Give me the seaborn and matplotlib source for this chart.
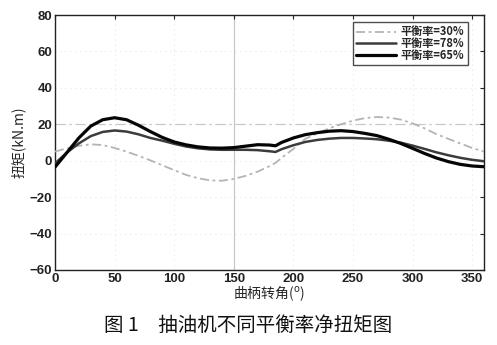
import numpy as np
import pandas as pd
import matplotlib
matplotlib.use("Agg")
import matplotlib.pyplot as plt
import seaborn as sns

# Crank angle (degrees) and net torque (kN.m) for three balance ratios
angle = [0, 10, 20, 30, 40, 50, 60, 70, 80, 90, 100, 110, 120, 130, 140, 150,
         160, 170, 180, 185, 190, 200, 210, 220, 230, 240, 250, 260, 270, 280,
         290, 300, 310, 320, 330, 340, 350, 360]
torque_30 = [5.0, 6.8, 8.2, 9.0, 8.6, 7.0, 5.0, 2.7, 0.2, -2.5, -5.2, -7.8,
             -9.6, -10.8, -11.0, -10.0, -8.3, -6.0, -3.0, -1.2, 1.5, 6.5, 12.0,
             15.0, 17.8, 20.0, 22.0, 23.4, 24.0, 23.7, 22.6, 20.5, 17.8, 14.6,
             12.0, 9.5, 7.0, 5.0]
torque_78 = [-1.5, 4.5, 9.5, 13.5, 15.8, 16.6, 16.0, 14.5, 12.5, 11.0, 9.3,
             7.8, 6.8, 6.2, 6.0, 6.0, 6.0, 5.8, 5.2, 4.8, 6.3, 8.5, 10.3, 11.4,
             12.1, 12.5, 12.5, 12.2, 11.8, 11.0, 9.9, 8.3, 6.5, 4.6, 3.0, 1.6,
             0.5, -0.3]
torque_65 = [-3.5, 4.5, 12.5, 19.0, 22.5, 23.6, 22.5, 19.5, 16.0, 12.8, 10.3,
             8.7, 7.6, 7.0, 6.9, 7.2, 8.0, 8.8, 8.6, 8.2, 10.0, 12.5, 14.3,
             15.4, 16.2, 16.5, 16.0, 15.0, 13.8, 11.8, 9.5, 6.8, 4.0, 1.5, -0.5,
             -2.0, -2.9, -3.3]
series_labels = ["平衡率=30%", "平衡率=78%", "平衡率=65%"]

x_ticks = [0, 50, 100, 150, 200, 250, 300, 350]
y_ticks = [-60, -40, -20, 0, 20, 40, 60, 80]

df = pd.concat([
    pd.DataFrame({"angle": angle, "torque": t, "series": lab})
    for t, lab in zip([torque_30, torque_78, torque_65], series_labels)
], ignore_index=True)

sns.set_style("white")
plt.rcParams["font.family"] = ["Liberation Sans", "Noto Sans CJK SC", "DejaVu Sans"]

fig = plt.figure(figsize=(4.97, 3.45), dpi=100)
ax = fig.add_axes([0.1107, 0.2174, 0.8633, 0.7391])

# Faint dotted grid plus the two highlighted reference lines
for xv in x_ticks:
    ax.axvline(xv, color="#d6d6d6", lw=0.6, ls=(0, (1, 5)), zorder=0)
for yv in y_ticks:
    ax.axhline(yv, color="#d6d6d6", lw=0.6, ls=(0, (1, 5)), zorder=0)
ax.axhline(20, color="#c8c8c8", lw=0.9, ls=(0, (8, 3, 2, 3)), zorder=0)
ax.axvline(150, color="#c8c8c8", lw=0.9, zorder=0)

dashdot = (0, (5, 2, 1.5, 2))
palette = {series_labels[0]: "#b4b4b4", series_labels[1]: "#3c3c3c",
           series_labels[2]: "#050505"}
sizes = {series_labels[0]: 1.3, series_labels[1]: 1.8, series_labels[2]: 2.3}
sns.lineplot(data=df, x="angle", y="torque", hue="series", size="series",
             palette=palette, sizes=sizes, hue_order=series_labels,
             size_order=series_labels, ax=ax, legend=False, zorder=3)
lines = ax.get_lines()[-3:]
lines[0].set_linestyle(dashdot)
for ln in lines:
    ln.set_solid_joinstyle("round")

ax.set_xlim(0, 360)
ax.set_ylim(-60, 80)
ax.set_xticks(x_ticks)
ax.set_yticks(y_ticks)
for lab in ax.get_xticklabels() + ax.get_yticklabels():
    lab.set_fontweight("bold")
    lab.set_fontsize(9.5)
ax.tick_params(direction="in", length=3, width=0.8, top=True, right=True,
               colors="#222222", pad=2)
for s in ax.spines.values():
    s.set_color("#222222")
    s.set_linewidth(1.0)
    s.set_visible(True)

cjk = ["Noto Sans CJK SC", "DejaVu Sans"]
ax.set_xlabel("曲柄转角($^{\\mathrm{o}}$)", fontsize=10, family=cjk, labelpad=0)
ax.set_ylabel("扭矩(kN.m)", fontsize=10, family=cjk, labelpad=3)

handles = [plt.Line2D([], [], color=palette[l], lw=sizes[l],
                      ls=dashdot if i == 0 else "-")
           for i, l in enumerate(series_labels)]
leg = ax.legend(handles, series_labels, loc="upper right",
                bbox_to_anchor=(0.962, 0.972), frameon=True,
                fancybox=False, edgecolor="#222222", handlelength=3.6,
                handletextpad=0.4, borderpad=0.3, labelspacing=-0.12,
                borderaxespad=0.0,
                prop={"family": cjk, "weight": "bold", "size": 8})
leg.get_frame().set_linewidth(1.0)

fig.text(0.5, 0.058, "图 1　抽油机不同平衡率净扭矩图", ha="center", va="center",
         fontsize=14, family=cjk, color="#111111")

fig.savefig("out.png", dpi=100, facecolor="white")
